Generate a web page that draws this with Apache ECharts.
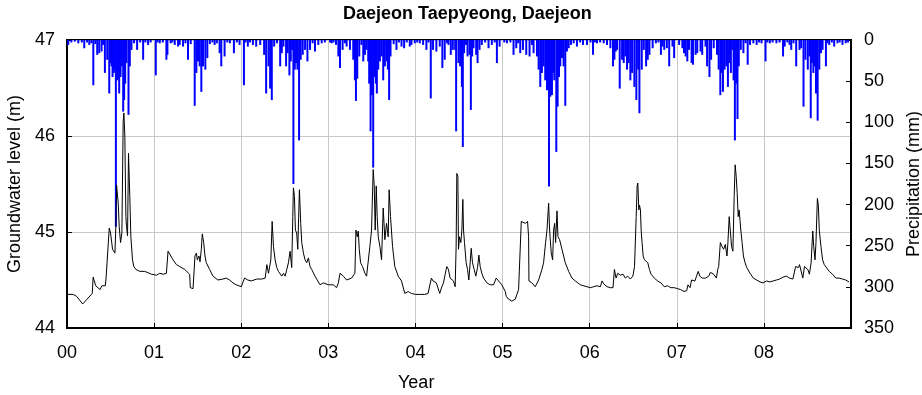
<!DOCTYPE html>
<html>
<head>
<meta charset="utf-8">
<script src="https://cdn.jsdelivr.net/npm/echarts@6/dist/echarts.min.js"></script>
<style>
  html, body { margin: 0; padding: 0; background: #fff; }
  #chart { width: 922px; height: 395px; }
</style>
</head>
<body>
<div id="chart"></div>
<script>
// x values are years since 2000-01-01
const yearLabels = ['00', '01', '02', '03', '04', '05', '06', '07', '08'];

// groundwater level (m), [year, level]
const gw2000 = [[0.00,44.35],[0.07,44.35],[0.11,44.33],[0.18,44.25],[0.23,44.30],[0.29,44.36],[0.30,44.53],[0.33,44.44],[0.35,44.45],[0.38,44.40],[0.40,44.44],[0.42,44.42],[0.44,44.44],[0.45,44.54],[0.485,45.04],[0.50,44.99],[0.523,44.82],[0.55,44.78],[0.561,45.06],[0.569,45.49],[0.576,45.51],[0.588,45.30],[0.599,45.06],[0.615,44.89],[0.63,44.99],[0.645,46.15],[0.653,46.24],[0.664,46.00],[0.676,45.16],[0.683,45.06],[0.695,44.96],[0.706,45.82],[0.714,45.83],[0.721,45.37],[0.733,44.95],[0.752,44.71],[0.767,44.64],[0.79,44.61],[0.836,44.59],[0.893,44.59],[0.912,44.58],[0.969,44.56]];
const gw2001 = [[1.027,44.55],[1.065,44.57],[1.103,44.56],[1.141,44.57],[1.16,44.80],[1.179,44.78],[1.218,44.71],[1.256,44.66],[1.294,44.64],[1.351,44.61],[1.408,44.56],[1.416,44.42],[1.447,44.41],[1.458,44.40],[1.469,44.75],[1.485,44.78],[1.496,44.71],[1.515,44.75],[1.527,44.69],[1.542,44.82],[1.553,44.98],[1.569,44.89],[1.584,44.75],[1.599,44.68],[1.637,44.61],[1.676,44.54],[1.733,44.50],[1.79,44.51],[1.828,44.52],[1.866,44.50],[1.905,44.47],[1.943,44.45]];
const gw2002 = [[2.0,44.43],[2.038,44.52],[2.076,44.50],[2.115,44.49],[2.179,44.51],[2.237,44.51],[2.275,44.52],[2.294,44.66],[2.313,44.57],[2.34,44.71],[2.355,45.11],[2.37,44.85],[2.389,44.71],[2.408,44.63],[2.427,44.59],[2.447,44.61],[2.466,44.54],[2.485,44.57],[2.504,44.54],[2.523,44.61],[2.542,44.68],[2.561,44.80],[2.58,44.63],[2.592,45.16],[2.599,45.46],[2.611,45.37],[2.622,45.02],[2.637,44.99],[2.649,44.82],[2.668,45.44],[2.683,45.09],[2.695,44.89],[2.714,44.78],[2.733,44.71],[2.752,44.68],[2.771,44.73],[2.79,44.64],[2.809,44.61],[2.847,44.54],[2.905,44.45],[2.943,44.47]];
const gw2003 = [[3.0,44.45],[3.057,44.45],[3.095,44.42],[3.115,44.47],[3.134,44.57],[3.172,44.54],[3.21,44.50],[3.267,44.52],[3.305,44.57],[3.317,45.02],[3.332,44.95],[3.344,45.01],[3.355,44.82],[3.37,44.68],[3.393,44.64],[3.408,44.66],[3.42,44.57],[3.439,44.54],[3.458,44.52],[3.477,44.85],[3.496,45.02],[3.515,45.65],[3.527,45.48],[3.538,45.02],[3.55,45.48],[3.561,45.16],[3.573,44.95],[3.592,44.85],[3.611,44.71],[3.63,45.25],[3.649,44.92],[3.668,45.09],[3.687,44.95],[3.698,45.44],[3.714,45.16],[3.737,44.85],[3.763,44.64],[3.802,44.54],[3.84,44.49],[3.878,44.36],[3.916,44.38],[3.954,44.36]];
const gw2004 = [[4.0,44.35],[4.05,44.35],[4.107,44.35],[4.145,44.36],[4.183,44.52],[4.202,44.49],[4.24,44.47],[4.279,44.36],[4.303,44.43],[4.322,44.47],[4.341,44.56],[4.36,44.64],[4.379,44.61],[4.398,44.52],[4.418,44.54],[4.437,44.49],[4.456,44.43],[4.467,44.85],[4.475,45.61],[4.487,45.58],[4.494,44.82],[4.506,44.95],[4.521,44.89],[4.533,45.02],[4.544,45.34],[4.552,45.02],[4.563,44.89],[4.582,44.68],[4.598,44.61],[4.613,44.50],[4.628,44.68],[4.64,44.83],[4.655,44.68],[4.674,44.61],[4.693,44.54],[4.713,44.63],[4.728,44.76],[4.743,44.64],[4.762,44.57],[4.782,44.52],[4.82,44.47],[4.858,44.45],[4.897,44.45],[4.927,44.52],[4.954,44.49],[4.992,44.45]];
const gw2005 = [[5.011,44.43],[5.031,44.38],[5.042,44.33],[5.069,44.30],[5.107,44.28],[5.146,44.30],[5.165,44.35],[5.184,44.40],[5.203,44.42],[5.215,45.11],[5.234,45.13],[5.261,45.09],[5.287,45.11],[5.299,44.95],[5.303,44.49],[5.337,44.47],[5.375,44.43],[5.414,44.50],[5.452,44.61],[5.471,44.68],[5.494,44.89],[5.51,45.02],[5.517,45.02],[5.529,45.30],[5.54,45.02],[5.559,44.78],[5.575,44.71],[5.586,45.02],[5.598,45.09],[5.609,44.89],[5.625,45.22],[5.636,44.95],[5.655,44.92],[5.682,44.82],[5.701,44.75],[5.72,44.68],[5.759,44.59],[5.797,44.52],[5.835,44.49],[5.893,44.45],[5.969,44.43]];
const gw2006 = [[6.008,44.42],[6.046,44.43],[6.084,44.44],[6.123,44.43],[6.142,44.49],[6.161,44.46],[6.199,44.43],[6.238,44.42],[6.268,44.42],[6.284,44.61],[6.303,44.52],[6.322,44.57],[6.352,44.55],[6.383,44.56],[6.41,44.52],[6.437,44.54],[6.467,44.51],[6.496,44.54],[6.515,44.64],[6.534,45.16],[6.545,45.48],[6.553,45.51],[6.564,45.23],[6.572,45.28],[6.583,45.23],[6.591,45.02],[6.602,44.89],[6.614,44.75],[6.629,44.71],[6.648,44.69],[6.667,44.68],[6.686,44.61],[6.705,44.56],[6.742,44.52],[6.78,44.49],[6.818,44.47],[6.856,44.43],[6.894,44.44],[6.932,44.42],[6.97,44.42]];
const gw2007 = [[7.008,44.41],[7.045,44.40],[7.083,44.38],[7.114,44.39],[7.129,44.45],[7.152,44.42],[7.17,44.50],[7.189,44.52],[7.208,44.49],[7.227,44.54],[7.246,44.59],[7.265,44.54],[7.292,44.52],[7.33,44.52],[7.367,44.54],[7.386,44.58],[7.405,44.56],[7.424,44.56],[7.455,44.52],[7.47,44.61],[7.481,44.64],[7.5,44.89],[7.519,44.85],[7.538,44.82],[7.557,44.87],[7.576,44.75],[7.587,44.89],[7.602,45.16],[7.614,45.02],[7.629,44.85],[7.644,44.80],[7.659,45.37],[7.67,45.70],[7.682,45.58],[7.693,45.41],[7.705,45.16],[7.716,45.23],[7.735,45.02],[7.75,44.89],[7.765,44.75],[7.784,44.68],[7.803,44.63],[7.841,44.57],[7.879,44.52],[7.917,44.50],[7.955,44.48],[7.992,44.47]];
const gw2008 = [[8.03,44.49],[8.068,44.48],[8.106,44.49],[8.144,44.50],[8.182,44.51],[8.22,44.53],[8.258,44.54],[8.295,44.52],[8.333,44.51],[8.364,44.64],[8.379,44.66],[8.398,44.63],[8.409,44.66],[8.428,44.64],[8.447,44.52],[8.466,44.64],[8.485,44.66],[8.504,44.61],[8.523,44.56],[8.542,44.68],[8.561,45.01],[8.572,44.85],[8.587,44.71],[8.598,44.89],[8.614,45.35],[8.625,45.28],[8.636,45.02],[8.655,44.85],[8.674,44.71],[8.693,44.66],[8.712,44.64],[8.75,44.59],[8.788,44.56],[8.826,44.52],[8.864,44.52],[8.902,44.51],[8.939,44.50],[8.977,44.48]];

// daily precipitation (mm), [year, mm]
const rain2000 = [[0.015,6],[0.05,3],[0.09,2],[0.13,4],[0.17,3],[0.198,10],[0.23,3],[0.256,6],[0.28,4],[0.302,55],[0.325,5],[0.347,18],[0.370,16],[0.397,14],[0.415,6],[0.435,40],[0.462,24],[0.485,65],[0.500,28],[0.511,32],[0.523,45],[0.538,40],[0.550,36],[0.561,227],[0.576,49],[0.588,47],[0.599,65],[0.615,45],[0.630,32],[0.645,87],[0.656,73],[0.668,53],[0.683,28],[0.706,91],[0.721,32],[0.740,12],[0.77,4],[0.805,12],[0.84,3],[0.874,24],[0.90,3],[0.931,6],[0.96,3]];
const rain2001 = [[1.019,43],[1.04,3],[1.065,4],[1.10,3],[1.141,24],[1.153,18],[1.19,4],[1.21,3],[1.237,6],[1.275,8],[1.294,6],[1.332,8],[1.36,4],[1.389,24],[1.42,5],[1.466,80],[1.485,40],[1.504,26],[1.523,32],[1.542,63],[1.561,32],[1.588,36],[1.611,22],[1.64,5],[1.67,3],[1.695,6],[1.72,4],[1.752,16],[1.771,32],[1.809,20],[1.84,3],[1.87,4],[1.916,16],[1.95,3],[1.981,6]];
const rain2002 = [[2.031,55],[2.05,3],[2.076,8],[2.10,3],[2.134,6],[2.172,8],[2.218,6],[2.263,18],[2.286,65],[2.313,32],[2.332,59],[2.351,73],[2.378,8],[2.41,4],[2.447,32],[2.466,16],[2.485,8],[2.515,32],[2.534,16],[2.553,43],[2.569,26],[2.584,12],[2.599,175],[2.615,36],[2.630,28],[2.645,36],[2.664,122],[2.683,24],[2.706,18],[2.733,12],[2.760,26],[2.790,12],[2.82,4],[2.847,14],[2.885,6],[2.924,4],[2.96,3]];
const rain2003 = [[3.02,3],[3.038,4],[3.06,3],[3.088,6],[3.115,20],[3.134,34],[3.164,12],[3.19,4],[3.210,8],[3.248,12],[3.286,24],[3.305,49],[3.317,74],[3.332,47],[3.355,20],[3.38,6],[3.401,26],[3.420,18],[3.439,12],[3.458,26],[3.469,53],[3.485,111],[3.500,67],[3.515,155],[3.531,45],[3.546,53],[3.557,65],[3.573,36],[3.592,26],[3.611,20],[3.630,49],[3.649,32],[3.668,26],[3.683,36],[3.698,73],[3.714,20],[3.75,5],[3.782,12],[3.81,3],[3.840,8],[3.870,10],[3.90,3],[3.935,8],[3.954,6],[3.992,4]];
const rain2004 = [[4.02,3],[4.050,4],[4.088,6],[4.126,12],[4.15,3],[4.176,71],[4.202,12],[4.240,14],[4.279,8],[4.309,34],[4.336,24],[4.363,4],[4.38,6],[4.406,18],[4.429,12],[4.456,12],[4.467,111],[4.494,28],[4.513,32],[4.533,57],[4.544,130],[4.559,16],[4.58,6],[4.598,20],[4.621,18],[4.636,85],[4.651,20],[4.667,10],[4.697,18],[4.713,28],[4.736,12],[4.762,6],[4.80,3],[4.839,10],[4.877,6],[4.91,3],[4.935,28],[4.966,8]];
const rain2005 = [[5.02,3],[5.050,4],[5.09,3],[5.126,18],[5.157,10],[5.18,4],[5.203,16],[5.234,12],[5.272,18],[5.310,20],[5.337,6],[5.356,16],[5.395,20],[5.414,36],[5.433,57],[5.452,40],[5.471,32],[5.490,49],[5.510,61],[5.533,178],[5.548,69],[5.567,67],[5.579,40],[5.594,49],[5.617,136],[5.632,81],[5.648,45],[5.663,32],[5.682,22],[5.701,32],[5.720,80],[5.739,14],[5.759,10],[5.785,6],[5.816,4],[5.854,8],[5.89,3],[5.923,6],[5.969,6]];
const rain2006 = [[6.01,3],[6.038,18],[6.06,3],[6.084,4],[6.12,3],[6.161,4],[6.199,6],[6.238,10],[6.268,32],[6.284,24],[6.299,14],[6.314,12],[6.345,59],[6.372,24],[6.391,28],[6.410,20],[6.429,36],[6.448,28],[6.467,49],[6.487,40],[6.513,57],[6.536,73],[6.556,36],[6.571,89],[6.598,36],[6.621,12],[6.648,32],[6.667,24],[6.686,18],[6.723,10],[6.76,4],[6.79,3],[6.818,18],[6.837,8],[6.856,12],[6.886,10],[6.913,32],[6.951,8],[6.970,22]];
const rain2007 = [[7.027,6],[7.064,10],[7.083,16],[7.102,20],[7.121,26],[7.140,12],[7.170,28],[7.186,30],[7.216,18],[7.235,16],[7.273,14],[7.292,18],[7.330,8],[7.348,32],[7.375,45],[7.394,24],[7.424,10],[7.462,18],[7.481,36],[7.500,67],[7.515,40],[7.530,63],[7.549,36],[7.568,32],[7.587,57],[7.602,28],[7.621,40],[7.633,12],[7.652,49],[7.667,122],[7.682,53],[7.697,96],[7.712,32],[7.735,12],[7.765,16],[7.79,4],[7.814,30],[7.841,6],[7.879,4],[7.917,6],[7.945,3],[7.973,4]];
const rain2008 = [[8.019,26],[8.04,3],[8.068,4],[8.10,3],[8.144,4],[8.18,3],[8.220,20],[8.239,8],[8.27,3],[8.295,6],[8.314,12],[8.34,4],[8.371,32],[8.409,12],[8.428,10],[8.455,81],[8.477,24],[8.504,36],[8.523,20],[8.538,95],[8.553,28],[8.568,40],[8.583,32],[8.598,65],[8.617,98],[8.636,36],[8.655,16],[8.674,12],[8.712,32],[8.73,4],[8.750,6],[8.78,3],[8.807,8],[8.845,4],[8.87,3],[8.902,6],[8.939,4],[8.965,3]];

const groundwater = [].concat(gw2000, gw2001, gw2002, gw2003, gw2004, gw2005, gw2006, gw2007, gw2008);
const rainfall = [].concat(rain2000, rain2001, rain2002, rain2003, rain2004, rain2005, rain2006, rain2007, rain2008);

const FONT = '"Liberation Sans", Arial, sans-serif';
const chart = echarts.init(document.getElementById('chart'));

chart.setOption({
  animation: false,
  textStyle: { fontFamily: FONT },
  title: [
    {
      text: 'Daejeon Taepyeong, Daejeon',
      left: 343,
      top: 5,
      padding: 0,
      textStyle: { fontFamily: FONT, fontSize: 18, fontWeight: 'bold', color: '#000' }
    },
    {
      text: 'Year',
      left: 398,
      top: 374,
      padding: 0,
      textStyle: { fontFamily: FONT, fontSize: 18, fontWeight: 'normal', color: '#000' }
    }
  ],
  grid: {
    left: 67,
    right: 71,
    top: 40,
    bottom: 67,
    outerBoundsMode: 'none',
    containLabel: false,
    show: true,
    borderColor: '#000',
    borderWidth: 2
  },
  xAxis: {
    type: 'value',
    min: 0,
    max: 9,
    interval: 1,
    axisLine: { show: true, onZero: false, lineStyle: { color: '#000', width: 2 } },
    axisTick: { show: true, inside: true, length: 5, lineStyle: { color: '#000' } },
    axisLabel: {
      fontSize: 18,
      color: '#000',
      margin: 16,
      formatter: v => (yearLabels[v] !== undefined ? yearLabels[v] : '')
    },
    splitLine: { show: true, lineStyle: { color: '#c8c8c8', width: 1 } }
  },
  yAxis: [
    {
      type: 'value',
      min: 44,
      max: 47,
      interval: 1,
      name: 'Groundwater level (m)',
      nameLocation: 'middle',
      nameGap: 38,
      nameTextStyle: { fontSize: 18, color: '#000' },
      axisLine: { show: true, lineStyle: { color: '#000', width: 2 } },
      axisTick: { show: true, inside: true, length: 5, lineStyle: { color: '#000' } },
      axisLabel: { fontSize: 18, color: '#000', margin: 12 },
      splitLine: { show: true, lineStyle: { color: '#c8c8c8', width: 1 } }
    },
    {
      type: 'value',
      position: 'right',
      inverse: true,
      min: 0,
      max: 350,
      interval: 50,
      name: 'Precipitation (mm)',
      nameLocation: 'middle',
      nameGap: 52,
      nameTextStyle: { fontSize: 18, color: '#000' },
      axisLine: { show: true, lineStyle: { color: '#000', width: 2 } },
      axisTick: { show: true, inside: true, length: 5, lineStyle: { color: '#000' } },
      axisLabel: { fontSize: 18, color: '#000', margin: 13 },
      splitLine: { show: false }
    }
  ],
  series: [
    {
      name: 'Precipitation',
      type: 'bar',
      yAxisIndex: 1,
      data: rainfall,
      barWidth: 2,
      itemStyle: { color: '#0000ff' },
      z: 2
    },
    {
      name: 'Groundwater level',
      type: 'line',
      yAxisIndex: 0,
      data: groundwater,
      symbol: 'none',
      lineStyle: { color: '#000', width: 1 },
      z: 3
    }
  ]
});
</script>
</body>
</html>
